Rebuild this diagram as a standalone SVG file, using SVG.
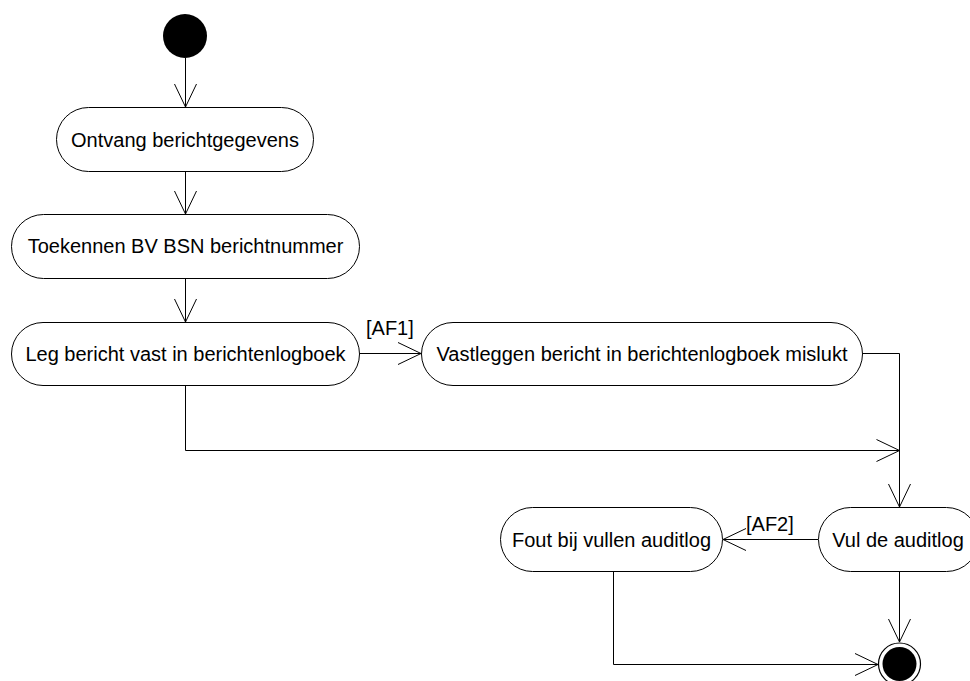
<svg xmlns="http://www.w3.org/2000/svg" width="970" height="681" viewBox="0 0 970 681">
<style>
.node{fill:#fff;stroke:#000;stroke-width:1}
.lbl{font-family:"Liberation Sans",Arial,sans-serif;font-size:20px;fill:#000}
.c{text-anchor:middle}
.edge{fill:none;stroke:#000;stroke-width:1}
</style>
<defs>
<marker id="arr" markerUnits="userSpaceOnUse" viewBox="-24 -13 26 26" refX="0" refY="0" markerWidth="26" markerHeight="26" orient="auto" overflow="visible">
<path d="M-23,-11 L0,0 L-23,11" fill="none" stroke="#000" stroke-width="1"/>
</marker>
</defs>
<g id="connectors">
<path class="edge" d="M185.5,58 V107" marker-end="url(#arr)"/>
<path class="edge" d="M185.5,172 V214" marker-end="url(#arr)"/>
<path class="edge" d="M185.5,278 V322" marker-end="url(#arr)"/>
<path class="edge" d="M360,353.5 H421" marker-end="url(#arr)"/>
<path class="edge" d="M185.5,386 V450.5 H899.5" marker-end="url(#arr)"/>
<path class="edge" d="M863,353.5 H899.5 V507" marker-end="url(#arr)"/>
<path class="edge" d="M818,539.5 H723" marker-end="url(#arr)"/>
<path class="edge" d="M899.5,571 V642" marker-end="url(#arr)"/>
<path class="edge" d="M613.5,571 V664.5 H878" marker-end="url(#arr)"/>
<text class="lbl" x="366" y="335">[AF1]</text>
<text class="lbl" x="746" y="531">[AF2]</text>
</g>
<g id="start"><circle cx="185" cy="36" r="22" fill="#000"/></g>
<g id="n1"><rect class="node" x="56.5" y="107.5" width="257" height="64" rx="32"/><text class="lbl c" x="185" y="147">Ontvang berichtgegevens</text></g>
<g id="n2"><rect class="node" x="11.5" y="214.5" width="348" height="64" rx="32"/><text class="lbl c" x="185.5" y="253">Toekennen BV BSN berichtnummer</text></g>
<g id="n3"><rect class="node" x="11.5" y="322.5" width="348" height="63" rx="31.5"/><text class="lbl c" x="185.5" y="361">Leg bericht vast in berichtenlogboek</text></g>
<g id="n4"><rect class="node" x="421.5" y="322.5" width="441" height="63" rx="31.5"/><text class="lbl c" x="642" y="361">Vastleggen bericht in berichtenlogboek mislukt</text></g>
<g id="n5"><rect class="node" x="818.5" y="507.5" width="160" height="64" rx="32"/><text class="lbl c" x="898" y="547">Vul de auditlog</text></g>
<g id="n6"><rect class="node" x="500.5" y="507.5" width="222" height="64" rx="32"/><text class="lbl c" x="611.5" y="547">Fout bij vullen auditlog</text></g>
<g id="end"><circle cx="899.5" cy="664" r="21" fill="#fff" stroke="#000" stroke-width="1.2"/><circle cx="899.5" cy="664" r="17" fill="#000"/></g>
</svg>
